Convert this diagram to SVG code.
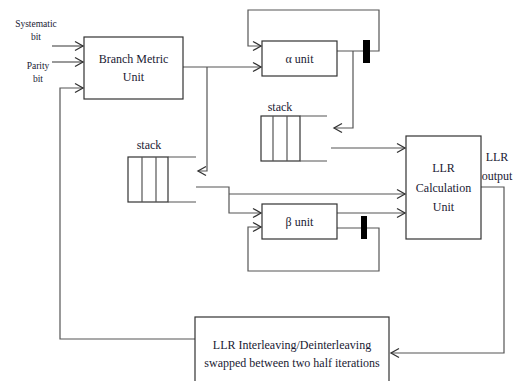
<svg xmlns="http://www.w3.org/2000/svg" width="515" height="381" viewBox="0 0 515 381">
<style>
.box{fill:#fff;stroke:#333;stroke-width:1.2}
.ln{fill:none;stroke:#555;stroke-width:1.2}
.t{font-family:"Liberation Serif","Times New Roman",serif;font-size:12px;fill:#1a1a33;text-anchor:middle}
.s{font-size:9.5px}
.bar{fill:#000}
</style>
<defs>
<marker id="ah" markerUnits="userSpaceOnUse" markerWidth="12" markerHeight="12" viewBox="-10 -6 12 12" refX="0" refY="0" orient="auto">
<path d="M-8,-4.5 L0,0 L-8,4.5" fill="none" stroke="#333" stroke-width="1.3"/>
</marker>
</defs>
<rect width="515" height="381" fill="#fff"/>
<g id="connectors">
<path class="ln" d="M52,46 H83" marker-end="url(#ah)"/>
<path class="ln" d="M52,62 H83" marker-end="url(#ah)"/>
<path class="ln" d="M195,339 H60 V88 H83" marker-end="url(#ah)"/>
<path class="ln" d="M183,67 H261" marker-end="url(#ah)"/>
<path class="ln" d="M207,67 V171 H198" marker-end="url(#ah)"/>
<path class="ln" d="M337,51 H379 V10 H248 V46 H261" marker-end="url(#ah)"/>
<path class="ln" d="M353,51 V128 H334" marker-end="url(#ah)"/>
<path class="ln" d="M331,148 H405" marker-end="url(#ah)"/>
<path class="ln" d="M196,187 H229 V213 H261" marker-end="url(#ah)"/>
<path class="ln" d="M229,194 H405" marker-end="url(#ah)"/>
<path class="ln" d="M337,213 H405" marker-end="url(#ah)"/>
<path class="ln" d="M337,228 H379 V271 H248 V227 H261" marker-end="url(#ah)"/>
<path class="ln" d="M481,187 H504 V353 H391" marker-end="url(#ah)"/>
<rect class="bar" x="363" y="40" width="7" height="23"/>
<rect class="bar" x="361" y="216" width="6" height="23"/>
</g>
<g id="inputs">
<text class="t s" x="36" y="27">Systematic</text>
<text class="t s" x="36" y="40">bit</text>
<text class="t s" x="38" y="69">Parity</text>
<text class="t s" x="38" y="82">bit</text>
</g>
<g id="bmu">
<rect class="box" x="84" y="37" width="99" height="62"/>
<text class="t" x="133.5" y="63">Branch Metric</text>
<text class="t" x="133.5" y="81">Unit</text>
</g>
<g id="alpha">
<rect class="box" x="262" y="41" width="75" height="35"/>
<text class="t" x="299.5" y="63">α unit</text>
</g>
<g id="stack1">
<text class="t" x="280" y="111">stack</text>
<rect class="box" x="261" y="116" width="39" height="45"/>
<path class="ln" d="M273,116 V161 M287,116 V161 M300,116 H327 M300,161 H327"/>
</g>
<g id="stack2">
<text class="t" x="149" y="149">stack</text>
<rect class="box" x="128" y="157" width="40" height="45"/>
<path class="ln" d="M142,157 V202 M156,157 V202 M168,157 H196 M168,202 H196"/>
</g>
<g id="beta">
<rect class="box" x="262" y="204" width="75" height="35"/>
<text class="t" x="299.5" y="226">β unit</text>
</g>
<g id="llr">
<rect class="box" x="406" y="136" width="75" height="103"/>
<text class="t" x="443.5" y="172">LLR</text>
<text class="t" x="443.5" y="192">Calculation</text>
<text class="t" x="443.5" y="211">Unit</text>
<text class="t" x="497" y="161">LLR</text>
<text class="t" x="497" y="180">output</text>
</g>
<g id="interleaver">
<rect class="box" x="195" y="317" width="194" height="72"/>
<text class="t" x="292" y="349">LLR Interleaving/Deinterleaving</text>
<text class="t" x="292" y="367">swapped between two half iterations</text>
</g>
</svg>
